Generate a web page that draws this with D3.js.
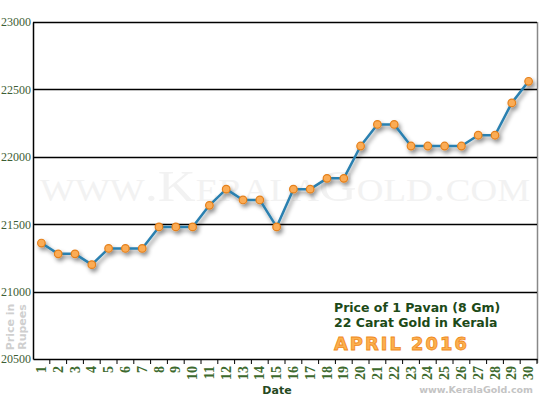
<!DOCTYPE html>
<html><head><meta charset="utf-8">
<script src="https://cdn.jsdelivr.net/npm/d3@7"></script>
<style>body{margin:0;background:#fff}svg{display:block}</style>
</head><body>
<svg id="c" width="550" height="400"></svg>
<script>
const days = d3.range(1, 31).map(String);
const prices = [21360,21280,21280,21200,21320,21320,21320,21480,21480,21480,
  21640,21760,21680,21680,21480,21760,21760,21840,21840,22080,
  22240,22240,22080,22080,22080,22080,22160,22160,22400,22560];
const yTicks = [20500,21000,21500,22000,22500,23000];
const titleLines = ["Price of 1 Pavan (8 Gm)", "22 Carat Gold in Kerala"];
const monthLabel = "APRIL 2016";

const svg = d3.select("#c");
const L = 33, R = 537, T = 22, B = 359;
const x = d3.scaleBand().domain(days).range([L, R]);
const y = d3.scaleLinear().domain([20500, 23000]).range([B, T]);

const defs = svg.append("defs");
const f = defs.append("filter").attr("id","sh").attr("x","-10%").attr("y","-10%").attr("width","130%").attr("height","140%");
f.append("feDropShadow").attr("dx",2).attr("dy",3).attr("stdDeviation",2).attr("flood-color","#000").attr("flood-opacity",0.45);

// watermark
svg.append("text").attr("x", 285).attr("y", 201).attr("text-anchor","middle")
  .attr("font-family","Liberation Serif, serif").attr("font-size",44)
  .attr("fill","#f2f2f2").attr("textLength",490).attr("lengthAdjust","spacingAndGlyphs")
  .style("font-variant","small-caps").text("www.KeralaGold.com");

// right border
svg.append("line").attr("x1",R+0.5).attr("x2",R+0.5).attr("y1",T).attr("y2",B+4)
  .attr("stroke","#888").attr("stroke-width",1.5);

// grid lines
svg.append("g").selectAll("line").data(yTicks.slice(1)).join("line")
  .attr("x1",L).attr("x2",R).attr("y1",d=>Math.round(y(d))+0.5).attr("y2",d=>Math.round(y(d))+0.5)
  .attr("stroke","#000").attr("stroke-width",1.5);

// y axis
const yAxis = svg.append("g").attr("transform",`translate(${L},0)`)
  .call(d3.axisLeft(y).tickValues(yTicks).tickSize(0).tickPadding(2).tickFormat(d3.format("d")));
yAxis.select(".domain").attr("stroke","#000").attr("stroke-width",1.5);
yAxis.selectAll("text").attr("font-family","Liberation Serif, serif").attr("font-size",12)
  .attr("fill","#3d5e34");

// x axis
const xAxis = svg.append("g").attr("transform",`translate(0,${B})`)
  .call(d3.axisBottom(x).tickSize(0).tickFormat(""));
xAxis.select(".domain").attr("stroke","#000").attr("stroke-width",1.5);
svg.append("g").selectAll("line").data(days).join("line")
  .attr("x1",d=>x(d)+x.bandwidth()).attr("x2",d=>x(d)+x.bandwidth())
  .attr("y1",B).attr("y2",B+5).attr("stroke","#000").attr("stroke-width",1);
svg.append("g").selectAll("text").data(days).join("text")
  .attr("transform",d=>`translate(${x(d)+x.bandwidth()/2+4.5},${B+7}) rotate(-90)`)
  .attr("text-anchor","end").attr("font-family","Liberation Serif, serif")
  .attr("font-size",14).attr("font-weight","bold").attr("fill","#3d6a2e").text(d=>d);

// axis titles
svg.append("text").attr("x",277).attr("y",394).attr("text-anchor","middle")
  .attr("font-family","DejaVu Sans, Verdana, sans-serif").attr("font-size",11).attr("font-weight","bold")
  .attr("fill","#254a1f").text("Date");
const yl = svg.append("text").attr("transform","translate(14,327) rotate(-90)")
  .attr("text-anchor","middle").attr("font-family","DejaVu Sans, Verdana, sans-serif")
  .attr("font-size",11).attr("font-weight","bold").attr("fill","#cfcfcf");
yl.append("tspan").attr("x",0).attr("dy",0).text("Price in");
yl.append("tspan").attr("x",0).attr("dy",12).text("Rupees");

// line
const line = d3.line().x((d,i)=>x(days[i])+x.bandwidth()/2).y(d=>y(d));
const g = svg.append("g").attr("filter","url(#sh)");
g.append("path").datum(prices).attr("d",line).attr("fill","none")
  .attr("stroke","#2a80b0").attr("stroke-width",2.5).attr("stroke-linejoin","round");
g.selectAll("circle").data(prices).join("circle")
  .attr("cx",(d,i)=>x(days[i])+x.bandwidth()/2).attr("cy",d=>y(d)).attr("r",3.8)
  .attr("fill","#fbac55").attr("stroke","#e5801b").attr("stroke-width",1.2);

// title
svg.append("g").selectAll("text").data(titleLines).join("text")
  .attr("x",334).attr("y",(d,i)=>312+i*14.5)
  .attr("font-family","DejaVu Sans, Verdana, sans-serif").attr("font-size",12.5).attr("font-weight","bold")
  .attr("fill","#1c4a18").text(d=>d);
svg.append("text").attr("x",334).attr("y",350).attr("font-family","DejaVu Sans, Verdana, sans-serif")
  .attr("font-size",18).attr("font-weight","bold").attr("letter-spacing",2)
  .attr("fill","#fbb04f").attr("stroke","#f08a1c").attr("stroke-width",0.8)
  .attr("textLength",135).attr("lengthAdjust","spacingAndGlyphs").text(monthLabel);

// footer
svg.append("text").attr("x",533).attr("y",393).attr("text-anchor","end")
  .attr("font-family","DejaVu Sans, Verdana, sans-serif").attr("font-size",9.5).attr("font-weight","bold")
  .attr("fill","#c4c4c4").text("www.KeralaGold.com");
</script>
</body></html>
